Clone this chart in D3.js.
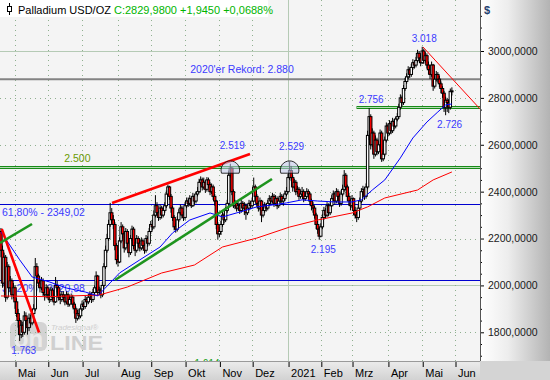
<!DOCTYPE html>
<html>
<head>
<meta charset="utf-8">
<script src="https://cdn.jsdelivr.net/npm/d3@7"></script>
<style>
  html, body { margin: 0; padding: 0; background: #fff; }
  svg { display: block; font-family: "Liberation Sans", Arial, sans-serif; }
</style>
</head>
<body>
<div id="chart"></div>
<script>
// daily candles, trading days starting 20.04.2020 (open = previous close)
var firstOpen = 2230;
var closes = [
  2150,2010,2120,1950,2080,1990,2020,1960,1990,1930,
  1880,1850,1790,1830,1800,1870,1850,1820,1860,1840,
  1880,1900,2080,2040,2010,1990,2020,1970,1960,1990,
  1960,1940,1980,1950,1930,2000,1990,1950,1940,1960,
  1950,1930,1960,1920,1940,1950,1920,1900,1860,1880,
  1870,1900,1920,1910,1940,1930,1950,1960,1940,1970,
  1990,2040,1970,1980,1960,2000,2080,2150,2200,2260,
  2310,2280,2260,2170,2110,2100,2190,2250,2220,2160,
  2230,2180,2140,2200,2240,2170,2150,2200,2180,2160,
  2190,2170,2150,2200,2180,2230,2260,2250,2300,2340,
  2310,2290,2330,2300,2320,2340,2390,2420,2380,2330,
  2290,2250,2240,2280,2310,2330,2300,2290,2340,2360,
  2350,2370,2340,2380,2360,2390,2400,2440,2450,2420,
  2440,2410,2450,2430,2400,2420,2380,2360,2260,2220,
  2230,2260,2300,2280,2320,2350,2470,2500,2400,2340,
  2350,2330,2340,2320,2350,2330,2340,2310,2330,2350,
  2340,2360,2420,2380,2350,2330,2360,2300,2320,2340,
  2330,2350,2370,2360,2380,2350,2370,2340,2360,2380,
  2360,2370,2390,2400,2460,2490,2460,2420,2440,2400,
  2410,2380,2390,2400,2370,2380,2400,2390,2360,2340,
  2330,2300,2260,2240,2210,2250,2290,2320,2300,2340,
  2310,2340,2370,2390,2360,2400,2380,2350,2390,2410,
  2470,2420,2380,2360,2340,2370,2320,2300,2290,2330,
  2360,2400,2410,2380,2420,2640,2720,2600,2650,2560,
  2620,2570,2600,2650,2540,2560,2620,2680,2650,2690,
  2660,2700,2680,2710,2720,2760,2800,2780,2840,2870,
  2890,2920,2900,2930,2950,2940,2960,2990,2970,2950,
  3000,2960,2980,2940,2920,2900,2940,2850,2880,2900,
  2880,2860,2840,2820,2760,2790,2780,2760,2828,2830
];
var highs = [
  2245,2170,2140,2130,2100,2090,2040,2030,2010,2000,
  1945,1900,1860,1850,1845,1890,1885,1860,1880,1875,
  1895,1920,2117,2095,2050,2025,2036,2030,1985,2005,
  2000,1975,1995,1990,1965,2036,2020,2000,1965,1975,
  1975,1960,1975,1970,1955,1965,1960,1930,1910,1895,
  1900,1915,1935,1930,1955,1950,1965,1975,1970,1985,
  2000,2060,2045,1995,1990,2015,2095,2170,2220,2280,
  2352,2330,2300,2270,2180,2130,2205,2270,2260,2230,
  2245,2240,2190,2215,2255,2250,2185,2215,2210,2195,
  2205,2200,2180,2215,2210,2245,2275,2280,2320,2385,
  2355,2320,2345,2340,2335,2355,2405,2430,2425,2390,
  2340,2300,2265,2295,2325,2345,2340,2315,2355,2375,
  2375,2385,2380,2395,2390,2400,2420,2455,2465,2460,
  2460,2450,2462,2460,2440,2435,2430,2390,2365,2270,
  2250,2275,2315,2310,2335,2365,2490,2519,2505,2410,
  2365,2360,2355,2350,2365,2360,2355,2350,2345,2365,
  2360,2375,2460,2430,2390,2360,2375,2365,2335,2355,
  2350,2365,2385,2380,2395,2390,2385,2380,2375,2395,
  2390,2385,2405,2420,2475,2529,2510,2470,2455,2450,
  2425,2420,2405,2420,2410,2395,2415,2410,2395,2370,
  2355,2340,2310,2275,2250,2265,2305,2335,2330,2355,
  2350,2355,2385,2405,2400,2415,2410,2390,2405,2430,
  2492,2480,2430,2395,2370,2385,2375,2335,2315,2345,
  2375,2415,2425,2420,2435,2660,2756,2730,2670,2660,
  2640,2630,2615,2665,2660,2580,2635,2695,2690,2705,
  2700,2715,2710,2720,2735,2775,2815,2810,2855,2885,
  2905,2935,2930,2945,2965,2960,2975,3005,3000,2985,
  3018,3010,2995,2990,2955,2935,2955,2945,2895,2915,
  2910,2895,2870,2850,2830,2805,2800,2795,2840,2845
];
var lows = [
  2120,1990,1995,1930,1940,1970,1975,1940,1945,1900,
  1865,1820,1763,1775,1780,1790,1830,1790,1805,1820,
  1830,1865,1890,2020,1990,1970,1980,1955,1935,1945,
  1945,1925,1930,1935,1915,1925,1970,1935,1920,1930,
  1935,1915,1920,1908,1910,1930,1905,1880,1840,1850,
  1855,1860,1890,1895,1900,1915,1920,1940,1925,1930,
  1955,1980,1955,1960,1945,1950,1990,2070,2140,2190,
  2250,2265,2240,2150,2090,2080,2095,2180,2200,2140,
  2150,2165,2120,2130,2190,2155,2125,2140,2165,2145,
  2150,2155,2135,2140,2165,2170,2220,2235,2240,2290,
  2295,2275,2280,2285,2290,2310,2330,2380,2365,2310,
  2275,2235,2225,2230,2270,2300,2285,2275,2280,2330,
  2335,2340,2330,2335,2345,2350,2380,2395,2430,2405,
  2410,2395,2400,2415,2385,2390,2365,2340,2240,2195,
  2205,2215,2250,2265,2270,2310,2345,2460,2385,2330,
  2325,2315,2320,2305,2310,2315,2300,2280,2300,2320,
  2325,2330,2355,2365,2335,2315,2320,2270,2290,2310,
  2315,2320,2340,2345,2350,2335,2340,2325,2330,2350,
  2345,2340,2360,2380,2395,2450,2445,2400,2410,2385,
  2390,2365,2370,2380,2355,2360,2375,2370,2345,2320,
  2310,2285,2240,2220,2195,2205,2240,2280,2285,2290,
  2295,2300,2335,2360,2345,2350,2365,2335,2340,2380,
  2400,2405,2360,2340,2320,2330,2300,2285,2270,2280,
  2320,2350,2385,2365,2370,2410,2620,2580,2590,2540,
  2550,2555,2560,2590,2527,2530,2550,2610,2635,2640,
  2645,2650,2665,2670,2700,2710,2750,2765,2770,2830,
  2860,2880,2885,2890,2920,2925,2930,2950,2955,2935,
  2945,2945,2950,2925,2900,2880,2890,2830,2840,2870,
  2865,2845,2820,2800,2740,2726,2740,2735,2750,2810
];

// moving averages, read at a few candles
var blueMaIdx = [0,12,20,31,42,54,62,70,76,89,102,110,121,134,142,153,164,174,183,193,203,214,225,231,238,246,256,264,273,280,285,289];
var blueMaVal = [2228,2109,2036,2015,1989,1972,1955,2011,2053,2109,2164,2224,2279,2309,2292,2313,2335,2343,2352,2365,2360,2356,2356,2365,2407,2450,2544,2629,2697,2740,2770,2774];
var redMaIdx = [0,30,63,81,103,124,142,164,185,203,225,235,246,267,277,289];
var redMaVal = [1955,1952,1959,1993,2053,2087,2164,2202,2249,2279,2309,2335,2373,2407,2450,2484];

var monthLabels = ["Mai","Jun","Jul","Aug","Sep","Okt","Nov","Dez","2021","Feb","Mrz","Apr","Mai","Jun"];
var priceTicks = [1800,2000,2200,2400,2600,2800,3000];

var fibValues = [2349.02, 2020.98];
var fibLabels = ["61,80% - 2349,02", "38,20% - 2020,98"];
var recordValue = 2880;
var recordLabel = "2020'er Rekord: 2.880";
var bandValues = [2500, 2756];
var bandStart = [-1, 228.2];
var bandLabels = ["2.500", ""];

var thickRed = [[71.2,2352],[159.6,2561]];
var thickRed2 = [[0.5,2241],[24.4,1799]];
var thickGreen = [[73.1,2023],[173.7,2454]];
var thickGreen2 = [[-0.6,2181],[19.9,2262]];
var thinRed = [[270.5,3017],[307,2753]];

var peakIdx = [12, 147, 185, 204, 236, 270, 285];
var peakVal = [1763, 2519, 2529, 2195, 2756, 3018, 2726];
var peakText = ["1.763","2.519","2.529","2.195","2.756","3.018","2.726"];
var domeIdx = [147, 185];

var W = 550, H = 380, plotR = 480, plotB = 361;

// trading day calendar
var days = [];
var dt = new Date(2020, 3, 20);
while (dt < new Date(2021, 5, 25)) {
  if (dt.getDay() !== 0 && dt.getDay() !== 6) days.push(new Date(dt));
  dt.setDate(dt.getDate() + 1);
}
var monthIdx = [];
days.forEach(function(d, i) {
  if (i > 0 && d.getMonth() !== days[i-1].getMonth()) monthIdx.push(i);
});
monthIdx = monthIdx.slice(0, monthLabels.length);

var x = d3.scaleLinear().domain([9, 291]).range([15, 455]);
var y = d3.scaleLinear().domain([1800, 3000]).range([332.3, 51]);

var svg = d3.select('#chart').append('svg')
  .attr('width', W)
  .attr('height', H);

var defs = svg.append('defs');
var gR = defs.append('linearGradient').attr('id', 'gRight')
  .attr('x1', 0).attr('x2', 1).attr('y1', 0).attr('y2', 0);
gR.append('stop').attr('offset', '0%').attr('stop-color', '#ffffff');
gR.append('stop').attr('offset', '40%').attr('stop-color', '#ededed');
gR.append('stop').attr('offset', '100%').attr('stop-color', '#b3b3b3');
var gB = defs.append('linearGradient').attr('id', 'gBottom')
  .attr('x1', 0).attr('x2', 0).attr('y1', 0).attr('y2', 1);
gB.append('stop').attr('offset', '0%').attr('stop-color', '#ececec');
gB.append('stop').attr('offset', '100%').attr('stop-color', '#d2d2d2');
defs.append('clipPath').attr('id', 'plotClip')
  .append('rect').attr('width', plotR).attr('height', plotB);

svg.append('rect').attr('width', W).attr('height', H).attr('fill', '#d4d4d4');
svg.append('rect').attr('width', plotR).attr('height', plotB).attr('fill', '#f4f4f4');

var plot = svg.append('g').attr('clip-path', 'url(#plotClip)');

// watermark
var wm = plot.append('g');
wm.append('rect').attr('x', 10).attr('y', 322).attr('width', 37).attr('height', 29)
  .attr('rx', 6).attr('fill', '#d3d3d3');
wm.append('text').attr('x', 28.5).attr('y', 347).attr('text-anchor', 'middle')
  .attr('font-size', 24).attr('font-weight', 'bold').attr('fill', '#ebebeb').text('on');
wm.append('text').attr('x', 50).attr('y', 350).attr('font-size', 20).attr('font-weight', 'bold')
  .attr('textLength', 53).attr('lengthAdjust', 'spacingAndGlyphs').attr('fill', '#d0d0d0').text('LINE');
wm.append('text').attr('x', 51).attr('y', 330).attr('font-size', 8).attr('font-style', 'italic')
  .attr('fill', '#cfcfcf').text('Tradesignal®');

// grid
var grid = plot.append('g');
priceTicks.forEach(function(v) {
  var solid = v % 1000 === 0;
  var yy = Math.round(y(v)) + 0.5;
  grid.append('line')
    .attr('x1', 0).attr('x2', plotR).attr('y1', yy).attr('y2', yy)
    .attr('stroke', solid ? '#b5cab5' : '#8fb08f')
    .attr('stroke-dasharray', solid ? null : '1,4');
});
monthIdx.forEach(function(i, k) {
  var solid = monthLabels[k] === '2021';
  var xx = Math.round(x(i)) + 0.5;
  grid.append('line')
    .attr('x1', xx).attr('x2', xx).attr('y1', 0).attr('y2', plotB)
    .attr('stroke', solid ? '#b5cab5' : '#8fb08f')
    .attr('stroke-dasharray', solid ? null : '1,4');
});

// horizontal levels
var lv = plot.append('g');
lv.append('line')
  .attr('x1', 0).attr('x2', plotR).attr('y1', y(recordValue)).attr('y2', y(recordValue))
  .attr('stroke', '#838383').attr('stroke-width', 2);
lv.append('text').attr('x', 242).attr('y', y(recordValue) - 6).attr('text-anchor', 'middle')
  .attr('font-size', 10.5).attr('fill', '#3b3bff').text(recordLabel);

bandValues.forEach(function(v, k) {
  var x0 = Math.max(0, x(bandStart[k]));
  var yy = Math.round(y(v));
  lv.append('rect')
    .attr('x', x0).attr('y', yy - 1.5).attr('width', plotR - x0).attr('height', 2)
    .attr('fill', '#b4dcb4').attr('stroke', '#178a17').attr('stroke-width', 1);
  if (bandLabels[k]) {
    lv.append('text').attr('x', x(bandStart[k]) + 78).attr('y', y(v) - 6).attr('text-anchor', 'middle')
      .attr('font-size', 10.5).attr('fill', '#6a9a00').text(bandLabels[k]);
  }
});

fibValues.forEach(function(v, k) {
  var yy = Math.round(y(v)) + 0.5;
  lv.append('line').attr('x1', 0).attr('x2', plotR).attr('y1', yy).attr('y2', yy)
    .attr('stroke', '#0000d0');
  lv.append('text').attr('x', 2).attr('y', yy + 11).attr('font-size', 10.5)
    .attr('fill', '#3b3bff').text(fibLabels[k]);
});

// candles
var candles = closes.map(function(c, i) {
  return { i: i, o: i ? closes[i-1] : firstOpen, h: highs[i], l: lows[i], c: c };
});
var cg = plot.append('g');
var cs = cg.selectAll('g').data(candles).join('g');
cs.append('line')
  .attr('x1', function(d) { return x(d.i); })
  .attr('x2', function(d) { return x(d.i); })
  .attr('y1', function(d) { return y(d.h); })
  .attr('y2', function(d) { return y(d.l); })
  .attr('stroke', '#000').attr('stroke-width', 1);
cs.append('rect')
  .attr('x', function(d) { return x(d.i) - 1.2; })
  .attr('width', 2.4)
  .attr('y', function(d) { return y(Math.max(d.o, d.c)); })
  .attr('height', function(d) { return Math.max(1, Math.abs(y(d.o) - y(d.c))); })
  .attr('fill', function(d) { return d.c >= d.o ? '#ffffff' : '#ff0000'; })
  .attr('stroke', '#000').attr('stroke-width', 1);

// moving averages
var line = d3.line().x(function(d) { return x(d[0]); }).y(function(d) { return y(d[1]); });
plot.append('path').datum(d3.zip(redMaIdx, redMaVal)).attr('d', line)
  .attr('fill', 'none').attr('stroke', '#ff0000').attr('stroke-width', 1);
plot.append('path').datum(d3.zip(blueMaIdx, blueMaVal)).attr('d', line)
  .attr('fill', 'none').attr('stroke', '#0000ff').attr('stroke-width', 1);

// trend lines
[[thickRed, '#ff0000', 2.6], [thickRed2, '#ff0000', 2.6], [thickGreen, '#1e941e', 2.6],
 [thickGreen2, '#1e941e', 2.6], [thinRed, '#ff0000', 1]].forEach(function(t) {
  plot.append('path').datum(t[0]).attr('d', line)
    .attr('fill', 'none').attr('stroke', t[1]).attr('stroke-width', t[2]);
});

// domes on the double top
domeIdx.forEach(function(i) {
  var cx = x(i), cy = y(2500) + 2, r = 9.3;
  plot.append('path')
    .attr('d', 'M' + (cx - 8.8) + ',' + (cy + 3) + ' A' + r + ',' + r + ' 0 1 1 ' + (cx + 8.8) + ',' + (cy + 3) + ' Z')
    .attr('fill', '#c3cbec').attr('fill-opacity', 0.55).attr('stroke', '#000').attr('stroke-width', 0.8);
});

// price labels
var below = { '1.763': 1, '2.195': 1, '2.726': 1 };
var lift = { '2.519': -15, '2.529': -11 };
peakText.forEach(function(t, k) {
  var isBelow = below[t];
  plot.append('text')
    .attr('x', x(peakIdx[k]) + (isBelow ? 4 : 2))
    .attr('y', y(peakVal[k]) + (isBelow ? 13 : (lift[t] || -5)))
    .attr('text-anchor', 'middle')
    .attr('font-size', 10).attr('fill', '#3b3bff').text(t);
});
svg.append('text').attr('x', 207).attr('y', 367).attr('text-anchor', 'middle')
  .attr('font-size', 10).attr('fill', '#14a014').text('1.614');

// title box
var tb = svg.append('g');
tb.append('rect').attr('x', 0).attr('y', 0).attr('width', 268).attr('height', 17).attr('fill', '#ffffff');
tb.append('line').attr('x1', 9.5).attr('x2', 9.5).attr('y1', 3).attr('y2', 15).attr('stroke', '#000');
tb.append('rect').attr('x', 7.5).attr('y', 6.5).attr('width', 4).attr('height', 5)
  .attr('fill', '#fff').attr('stroke', '#000');
var tt = tb.append('text').attr('x', 18).attr('y', 14).attr('font-size', 11);
tt.append('tspan').attr('fill', '#000').text('Palladium USD/OZ ');
tt.append('tspan').attr('fill', '#00b400').text('C:2829,9800 +1,9450 +0,0688%');

// right axis panel
svg.append('rect').attr('x', plotR).attr('y', 0).attr('width', W - plotR).attr('height', plotB)
  .attr('fill', 'url(#gRight)');
var minorTicks = d3.range(1700, 3250, 50).filter(function(v) { return v % 200 !== 0; });
svg.append('g').attr('transform', 'translate(' + plotR + ',0)')
  .call(d3.axisRight(y).tickValues(minorTicks).tickSize(2).tickFormat(''))
  .call(function(g) { g.select('.domain').remove(); });
var ya = svg.append('g').attr('transform', 'translate(' + plotR + ',0)')
  .call(d3.axisRight(y).tickValues(priceTicks).tickSize(4).tickPadding(4)
    .tickFormat(function(d) { return d + ',0000'; }));
ya.select('.domain').remove();
ya.selectAll('text').attr('font-size', 10.5).attr('fill', '#1a1a1a')
  .attr('font-family', '"Liberation Sans", Arial, sans-serif');
svg.append('line').attr('x1', plotR + 0.5).attr('x2', plotR + 0.5).attr('y1', 0).attr('y2', plotB)
  .attr('stroke', '#555');
svg.append('text').attr('x', 484).attr('y', 14).attr('font-size', 11).attr('font-weight', 'bold')
  .attr('fill', '#23406e').text('$');

// bottom axis panel
svg.append('rect').attr('x', 0).attr('y', plotB).attr('width', plotR).attr('height', H - plotB)
  .attr('fill', 'url(#gBottom)');
svg.append('line').attr('x1', 0).attr('x2', plotR).attr('y1', plotB + 0.5).attr('y2', plotB + 0.5)
  .attr('stroke', '#9a9a9a');
var xa = svg.append('g').attr('transform', 'translate(0,' + (plotB + 1) + ')')
  .call(d3.axisBottom(x).tickValues(monthIdx).tickSize(5)
    .tickFormat(function(d, i) { return monthLabels[i]; }));
xa.select('.domain').remove();
xa.selectAll('.tick line').attr('transform', 'translate(0.5,0)');
xa.selectAll('text').attr('text-anchor', 'start').attr('x', 2.5).attr('y', 15).attr('dy', 0)
  .attr('font-size', 11).attr('fill', '#000')
  .attr('font-family', '"Liberation Sans", Arial, sans-serif');
</script>
</body>
</html>
